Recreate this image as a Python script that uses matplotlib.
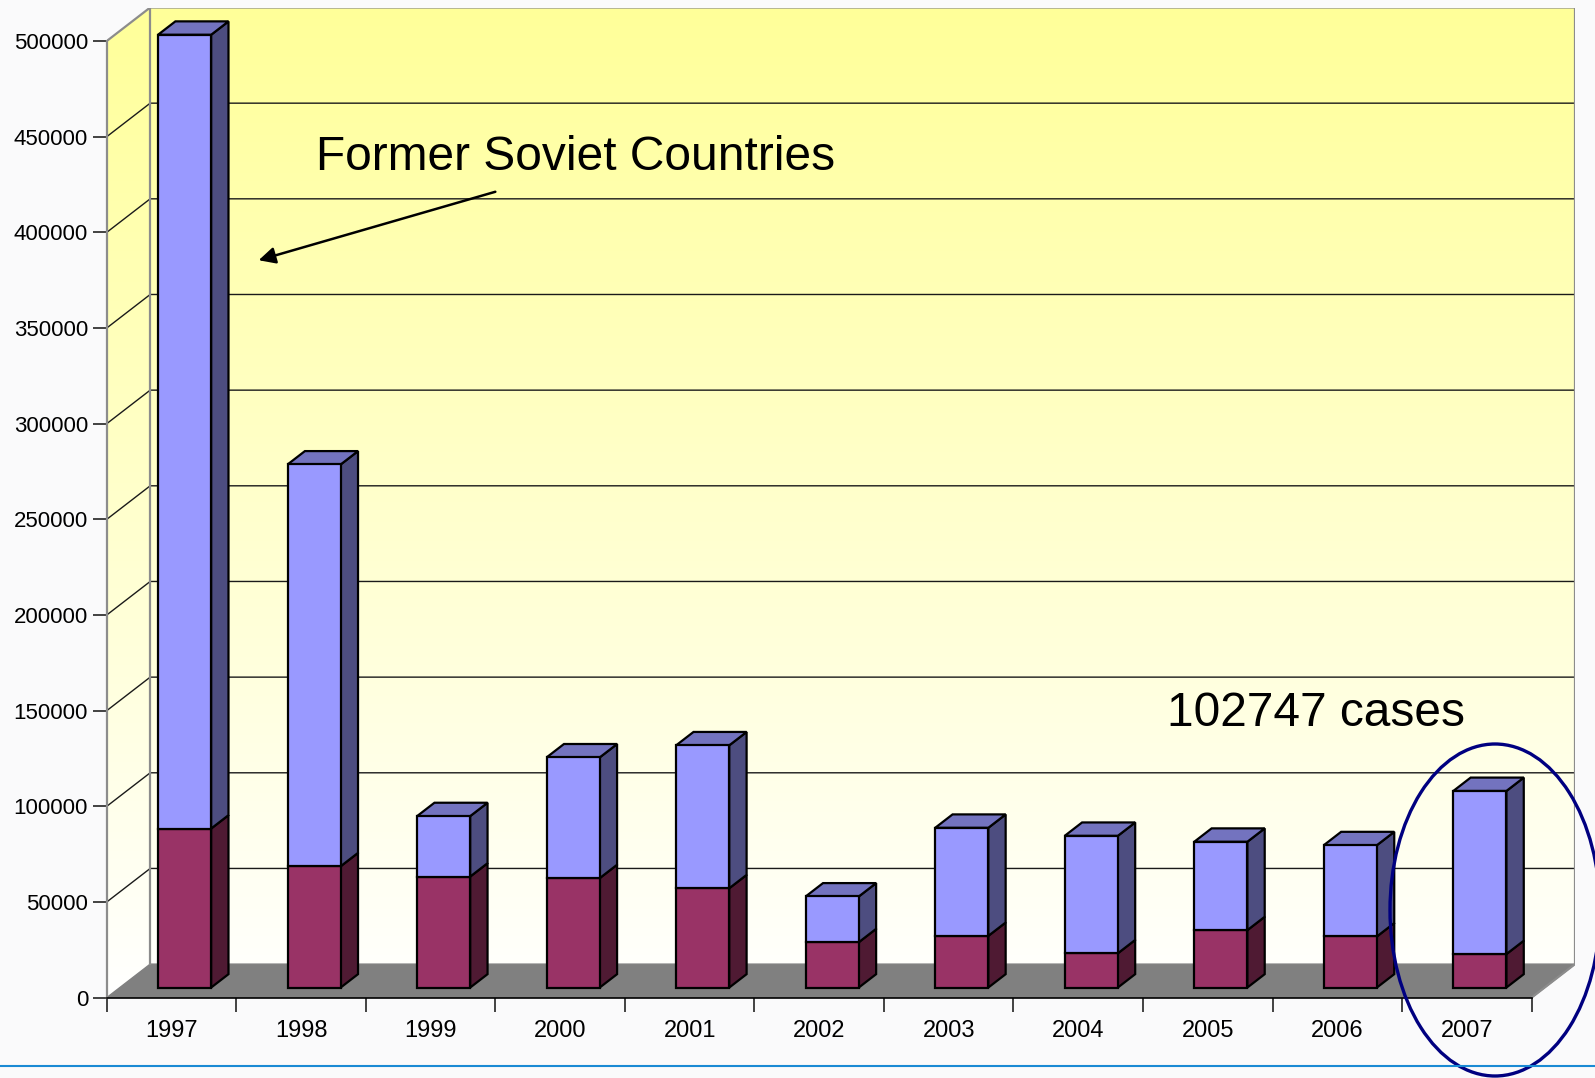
import matplotlib.pyplot as plt
import numpy as np
from matplotlib.patches import Ellipse, Polygon

# Data
years = ["1997", "1998", "1999", "2000", "2001", "2002",
         "2003", "2004", "2005", "2006", "2007"]
total_cases = [498000, 273400, 89600, 120300, 126600, 47600,
               83500, 79300, 76200, 74400, 102747]
other_cases = [83100, 63400, 58000, 57200, 51900, 23700,
               27000, 17900, 30000, 26700, 17500]
soviet_cases = [t - o for t, o in zip(total_cases, other_cases)]
y_ticks = list(range(0, 500001, 50000))

# 3D look: depth offset of the back wall (x in categories, y in value units)
DX = 0.335
DY = 17500
D0, D1 = 0.3, 0.7      # bar depth range
BAR_W = 0.41
n = len(years)

plt.rcParams['font.family'] = ['Liberation Sans', 'DejaVu Sans']

fig = plt.figure(figsize=(15.95, 10.78), dpi=100, facecolor="#fafafb")
ax = fig.add_axes([106.8 / 1595, 1 - 997.6 / 1078,
                   (1575 - 106.8) / 1595, (997.6 - 7.5) / 1078])
ax.set_xlim(0, n + DX)
ax.set_ylim(0, 500000 + DY)
ax.patch.set_visible(False)

# walls with yellow gradient
top = 500000 + DY
wall = Polygon([(0, 0), (DX, DY), (n + DX, DY), (n + DX, top),
                (DX, top), (0, 500000)], closed=True,
               facecolor="none", edgecolor="none", transform=ax.transData)
ax.add_patch(wall)
grad = np.linspace(0, 1, 256).reshape(-1, 1)
c_top = np.array([255, 255, 153]) / 255
c_bot = np.array([255, 255, 255]) / 255
img = c_top[None, None, :] * (1 - grad[:, :, None]) + c_bot[None, None, :] * grad[:, :, None]
im = ax.imshow(img, extent=(0, n + DX, 0, top), aspect="auto", zorder=0)
im.set_clip_path(wall)

# floor
ax.fill([0, n, n + DX, DX], [0, 0, DY, DY], color="#808080", zorder=1)

# gridlines on left and back wall
for v in y_ticks[1:-1]:
    ax.plot([0, DX, n + DX], [v, v + DY, v + DY], color="#1a1a1a", lw=1.0, zorder=1)
# wall outline
ax.plot([0, DX, n + DX, n + DX, n], [500000, top, top, DY, 0], color="#8c8c8c", lw=1.6, zorder=1)
ax.plot([DX, DX], [DY, top], color="#8c8c8c", lw=1.6, zorder=1)

# bars
x = np.arange(n) + 0.5 + D0 * DX
base = D0 * DY
dd = D1 - D0
EW = 1.6


def draw_segment(xc, y0, y1, side, topc, show_top):
    xl, xr = xc - BAR_W / 2, xc + BAR_W / 2
    ax.fill([xr, xr + dd * DX, xr + dd * DX, xr],
            [y0, y0 + dd * DY, y1 + dd * DY, y1],
            facecolor=side, edgecolor="black", lw=EW, zorder=3)
    if show_top:
        ax.fill([xl, xr, xr + dd * DX, xl + dd * DX],
                [y1, y1, y1 + dd * DY, y1 + dd * DY],
                facecolor=topc, edgecolor="black", lw=EW, zorder=3)


ax.bar(x, other_cases, width=BAR_W, bottom=base, color="#993366",
       edgecolor="black", lw=EW, zorder=4)
ax.bar(x, soviet_cases, width=BAR_W, bottom=[base + o for o in other_cases],
       color="#9999ff", edgecolor="black", lw=EW, zorder=4)
for i in range(n):
    draw_segment(x[i], base, base + other_cases[i], "#4f1a33", "#73264d", False)
    draw_segment(x[i], base + other_cases[i], base + total_cases[i],
                 "#4d4d80", "#7373bf", True)

# axes styling
for s in ["top", "right"]:
    ax.spines[s].set_visible(False)
ax.spines["left"].set_bounds(0, 500000)
ax.spines["left"].set_color("#8c8c8c")
ax.spines["left"].set_linewidth(1.6)
ax.spines["bottom"].set_bounds(0, n)
ax.spines["bottom"].set_color("black")
ax.spines["bottom"].set_linewidth(1.2)

ax.set_yticks(y_ticks)
ax.set_yticklabels([str(v) for v in y_ticks], fontsize=16)
ax.tick_params(axis="y", length=10, width=1.2, pad=3.5, color="#222222")
ax.set_xticks(np.arange(n + 1))
ax.set_xticklabels([])
ax.tick_params(axis="x", which="major", length=10, width=1.2, color="#222222")
ax.set_xticks(np.arange(n) + 0.5, minor=True)
ax.set_xticklabels(years, minor=True, fontsize=17)
ax.tick_params(axis="x", which="minor", length=0, pad=16)

# annotations
fig.text(576 / 1595, 1 - 158 / 1078, "Former Soviet Countries", fontsize=34.5,
         ha="center", va="center")
ax.annotate("", xy=(256 / 1595, 1 - 261 / 1078), xycoords="figure fraction",
            xytext=(498 / 1595, 1 - 191 / 1078), textcoords="figure fraction",
            arrowprops=dict(arrowstyle="-|>", color="black", lw=1.8,
                            mutation_scale=25))
fig.text(1316 / 1595, 1 - 713 / 1078, "102747 cases", fontsize=34.5,
         ha="center", va="center")
fig.add_artist(Ellipse((1495 / 1595, 1 - 910 / 1078), 210 / 1595, 332 / 1078,
                       transform=fig.transFigure, fill=False,
                       edgecolor="#000080", lw=2.4, clip_on=False))

# slide's bottom line
fig.add_artist(plt.Line2D([0, 1], [1 - 1066 / 1078] * 2, color="#1a8ad4",
                          lw=1.5, transform=fig.transFigure))

fig.savefig("out.png", dpi=100, facecolor=fig.get_facecolor())
